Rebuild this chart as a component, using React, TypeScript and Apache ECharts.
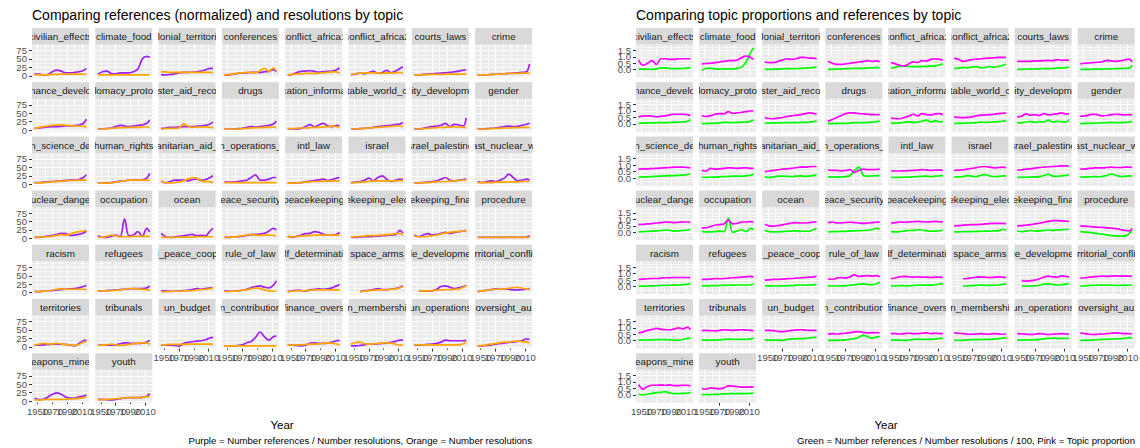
import React, { useEffect, useRef } from "react";
import * as echarts from "echarts";

// Sample years shared by every topic panel
const YEARS = [1946, 1952, 1958, 1964, 1970, 1976, 1982, 1988, 1994, 2000, 2006, 2012, 2016];

// Facet strip labels, as they appear inside the strips
const TOPICS = [
  "civilian_effects", "climate_food", "lonial_territori", "conferences", "conflict_africa1", "conflict_africa2", "courts_laws", "crime",
  "nance_develo", "lomacy_proto", "ster_aid_reco", "drugs", "cation_informa", "table_world_c", "ity_developm", "gender",
  "n_science_de", "human_rights", "anitarian_aid_", "n_operations_", "intl_law", "israel", "srael_palestine", "ast_nuclear_w",
  "uclear_dange", "occupation", "ocean", "eace_security", "peacekeeping", "ekeeping_elec", "ekeeping_fina", "procedure",
  "racism", "refugees", "l_peace_coop", "rule_of_law", "lf_determinati", "space_arms", "le_developme", "rritorial_confli",
  "territories", "tribunals", "un_budget", "n_contribution", "finance_overs", "n_membershi", "un_operations", "oversight_au",
  "eapons_mine", "youth",
];

// Number references / number resolutions (normalized), one row per topic
const REFS_PER_RES = [
  [5, 5, 3, 4, 12, 17, 14, 9, 9, 10, 12, 16, 22],
  [5, 12, 14, 7, 6, 9, 9, 9, 12, 20, 50, 58, 55],
  [3, 3, 4, 6, 9, 10, 10, 11, 12, 14, 18, 22, 22],
  [3, 3, 5, 7, 8, 9, 10, 10, 10, 12, 13, 18, 12],
  [2, 4, 10, 13, 14, 15, 13, 11, 12, 13, 14, 18, 24],
  [3, 5, 8, 6, 10, 13, 8, 10, 16, 9, 14, 22, 27],
  [3, 3, 4, 5, 6, 7, 8, 9, 10, 12, 14, 17, 18],
  [3, 3, 3, 4, 5, 5, 6, 7, 8, 9, 10, 12, 35],
  [5, 6, 8, 9, 10, 10, 11, 12, 12, 13, 15, 20, 32],
  [3, 3, 4, 6, 10, 14, 12, 10, 12, 14, 15, 20, 30],
  [5, 6, 8, 8, 9, 10, 10, 10, 11, 12, 14, 18, 24],
  [3, 3, 3, 4, 5, 8, 10, 9, 10, 12, 14, 18, 27],
  [3, 3, 3, 5, 10, 16, 10, 15, 20, 12, 10, 14, 12],
  [3, 3, 4, 5, 6, 8, 10, 12, 13, 14, 16, 18, 22],
  [3, 3, 5, 8, 10, 12, 14, 20, 10, 17, 15, 12, 36],
  [3, 3, 4, 5, 6, 8, 10, 12, 10, 11, 14, 17, 20],
  [5, 5, 6, 7, 8, 9, 10, 11, 12, 12, 14, 20, 28],
  [3, 3, 4, 5, 7, 9, 10, 12, 12, 12, 13, 18, 32],
  [10, 4, 8, 12, 12, 12, 10, 14, 15, 12, 14, 20, 25],
  [8, 6, 7, 8, 10, 12, 20, 28, 12, 12, 15, 20, 20],
  [3, 3, 4, 5, 7, 9, 11, 13, 15, 11, 14, 18, 20],
  [5, 6, 8, 12, 18, 10, 20, 25, 15, 8, 12, 15, 14],
  [3, 4, 5, 6, 8, 10, 15, 20, 12, 10, 12, 14, 15],
  [8, 5, 8, 10, 8, 12, 18, 30, 20, 10, 12, 15, 12],
  [3, 3, 5, 7, 9, 12, 15, 14, 9, 10, 12, 16, 22],
  [8, 3, 3, 6, 10, 5, 58, 8, 10, 20, 6, 30, 20],
  [15, 5, 3, 4, 6, 8, 10, 12, 8, 9, 8, 22, 30],
  [3, 3, 4, 5, 7, 9, 11, 12, 13, 15, 22, 30, 25],
  [6, 3, 6, 10, 14, 15, 20, 18, 12, 10, 10, 12, 18],
  [3, 3, 4, 5, 5, 6, 7, 8, 9, 10, 11, 24, 16],
  [10, 5, 10, 14, 10, 12, 15, 18, 15, 18, 20, 22, 24],
  [3, 3, 3, 3, 3, 3, 3, 3, 3, 3, 3, 4, 8],
  [3, 3, 4, 5, 6, 8, 9, 10, 11, 12, 14, 18, 22],
  [5, 5, 6, 7, 8, 9, 10, 11, 12, 12, 12, 14, 20],
  [5, 5, 4, 4, 5, 6, 7, 9, 12, 10, 12, 14, 15],
  [5, 4, 4, 5, 7, 10, 14, 18, 20, 16, 14, 22, 35],
  [3, 5, 7, 6, 5, 8, 10, 11, 10, 11, 14, 20, 24],
  [null, null, 3, 5, 7, 9, 12, 9, 9, 10, 12, 16, 20],
  [null, 5, 4, 4, 5, 10, 18, 20, 16, 12, 14, 18, 22],
  [3, 5, 7, 9, 11, 10, 11, 10, 8, 8, 9, 10, 12],
  [5, 5, 6, 7, 8, 8, 8, 7, 5, 3, 10, 18, 20],
  [5, 5, 5, 5, 6, 9, 12, 11, 10, 10, 11, 14, 20],
  [5, 5, 5, 4, 2, 10, 13, 15, 17, 18, 21, 26, 28],
  [3, 3, 3, 4, 6, 12, 16, 28, 44, 30, 20, 30, 32],
  [5, 5, 4, 3, 5, 11, 12, 10, 10, 11, 14, 18, 19],
  [3, 3, 4, 6, 8, 8, 9, 10, 11, 13, 16, 20, 20],
  [5, 5, 6, 7, 8, 10, 14, 20, 18, 18, 18, 18, 19],
  [3, 3, 4, 6, 8, 10, 11, 13, 14, 16, 18, 24, 22],
  [8, 4, 6, 12, 20, 24, 20, 12, 9, 9, 12, 15, 18],
  [5, 5, 4, 3, 5, 7, 9, 10, 10, 10, 11, 14, 22],
];

// Number of resolutions (normalized)
const RESOLUTIONS = [
  [3, 3, 3, 3, 4, 4, 5, 5, 5, 5, 5, 5, 4],
  [3, 3, 3, 3, 3, 3, 3, 3, 3, 3, 3, 3, 3],
  [12, 12, 10, 10, 10, 10, 10, 10, 10, 10, 10, 10, 10],
  [3, 4, 6, 8, 9, 10, 10, 9, 15, 22, 14, 24, 14],
  [3, 4, 6, 6, 7, 7, 7, 8, 9, 10, 12, 12, 8],
  [4, 6, 8, 8, 9, 9, 9, 7, 9, 8, 9, 10, 9],
  [3, 3, 3, 4, 4, 4, 4, 5, 5, 5, 5, 5, 5],
  [3, 3, 3, 4, 5, 5, 6, 7, 7, 7, 8, 8, 8],
  [4, 8, 10, 12, 14, 15, 15, 14, 13, 12, 12, 11, 9],
  [3, 3, 4, 5, 6, 7, 7, 8, 8, 8, 9, 9, 8],
  [3, 4, 5, 5, 6, 18, 12, 8, 9, 9, 9, 8, 8],
  [3, 3, 3, 3, 4, 5, 6, 7, 7, 8, 8, 9, 8],
  [4, 4, 5, 6, 6, 7, 8, 8, 9, 10, 12, 10, 9],
  [3, 3, 4, 5, 6, 7, 8, 9, 10, 11, 12, 12, 10],
  [3, 3, 4, 5, 6, 7, 8, 8, 9, 9, 9, 8, 8],
  [3, 3, 3, 4, 5, 5, 6, 6, 7, 7, 8, 8, 8],
  [4, 4, 5, 6, 7, 8, 9, 10, 11, 11, 12, 12, 12],
  [3, 3, 3, 4, 6, 8, 10, 12, 12, 12, 12, 12, 11],
  [10, 4, 4, 5, 6, 10, 15, 20, 18, 10, 8, 7, 6],
  [5, 5, 5, 5, 5, 5, 5, 5, 5, 5, 5, 5, 5],
  [3, 3, 4, 5, 6, 7, 8, 8, 9, 9, 10, 10, 10],
  [4, 5, 6, 7, 8, 9, 10, 10, 10, 10, 10, 11, 10],
  [3, 4, 5, 5, 6, 7, 8, 8, 9, 10, 11, 12, 12],
  [5, 5, 5, 5, 6, 6, 6, 7, 7, 7, 8, 8, 8],
  [3, 3, 4, 5, 7, 9, 11, 10, 12, 18, 20, 22, 24],
  [3, 3, 6, 10, 8, 5, 5, 5, 6, 6, 6, 6, 6],
  [3, 3, 3, 3, 4, 4, 4, 4, 5, 5, 5, 5, 5],
  [3, 3, 4, 6, 8, 10, 12, 10, 9, 10, 10, 9, 8],
  [4, 5, 6, 7, 8, 9, 10, 10, 10, 10, 10, 10, 10],
  [4, 5, 6, 7, 8, 8, 9, 10, 11, 12, 14, 14, 10],
  [8, 5, 5, 6, 8, 10, 13, 16, 18, 20, 20, 22, 24],
  [3, 3, 3, 3, 3, 3, 3, 3, 3, 3, 3, 3, 3],
  [3, 3, 4, 5, 7, 10, 11, 10, 10, 10, 10, 10, 9],
  [5, 5, 5, 6, 7, 8, 10, 12, 12, 11, 10, 9, 8],
  [3, 3, 3, 4, 4, 5, 5, 6, 8, 9, 10, 12, 14],
  [3, 3, 4, 5, 7, 9, 11, 14, 12, 8, 5, 4, 4],
  [3, 4, 5, 5, 6, 7, 8, 8, 8, 8, 8, 8, 8],
  [null, null, 3, 4, 6, 7, 8, 8, 9, 10, 11, 14, 18],
  [null, 5, 5, 5, 6, 7, 8, 9, 9, 10, 11, 16, 20],
  [3, 5, 7, 9, 10, 10, 11, 13, 15, 16, 13, 11, 9],
  [5, 8, 10, 9, 9, 10, 9, 7, 5, 4, 7, 14, 15],
  [5, 5, 6, 8, 6, 4, 5, 7, 9, 11, 12, 11, 8],
  [5, 6, 7, 7, 7, 7, 8, 8, 8, 8, 8, 8, 8],
  [3, 3, 3, 3, 3, 3, 3, 3, 3, 3, 3, 3, 3],
  [5, 5, 6, 6, 7, 8, 8, 9, 10, 12, 11, 8, 6],
  [8, 13, 14, 9, 8, 9, 10, 11, 12, 11, 8, 5, 5],
  [6, 6, 6, 6, 6, 6, 6, 6, 6, 6, 6, 9, 16],
  [3, 4, 6, 8, 10, 12, 14, 14, 16, 17, 15, 14, 12],
  [3, 3, 4, 5, 5, 5, 5, 5, 6, 7, 8, 10, 12],
  [4, 4, 5, 6, 7, 8, 9, 10, 10, 10, 11, 14, 12],
];

// Number references / number resolutions / 100
const REFS_RATIO = [
  [0.05, 0.05, 0.04, 0.03, 0.06, 0.15, 0.15, 0.1, 0.08, 0.09, 0.1, 0.13, 0.18],
  [-0.05, 0.1, 0.12, 0.06, 0.05, 0.06, 0.06, 0.07, 0.1, 0.2, 0.6, 1.3, 1.7],
  [0.03, 0.03, 0.04, 0.05, 0.07, 0.08, 0.08, 0.09, 0.1, 0.12, 0.15, 0.18, 0.2],
  [0.03, 0.03, 0.05, 0.07, 0.08, 0.09, 0.1, 0.1, 0.1, 0.15, 0.14, 0.18, 0.14],
  [0.1, 0.2, 0.28, 0.3, 0.26, 0.24, 0.24, 0.25, 0.26, 0.28, 0.3, 0.38, 0.45],
  [0.08, 0.12, 0.18, 0.15, 0.2, 0.24, 0.14, 0.18, 0.25, 0.2, 0.25, 0.35, 0.45],
  [0.03, 0.03, 0.04, 0.05, 0.06, 0.07, 0.08, 0.09, 0.1, 0.12, 0.14, 0.17, 0.2],
  [0.03, 0.03, 0.03, 0.04, 0.05, 0.05, 0.06, 0.07, 0.08, 0.09, 0.1, 0.12, 0.35],
  [0.05, 0.06, 0.07, 0.08, 0.09, 0.1, 0.1, 0.11, 0.12, 0.13, 0.15, 0.2, 0.32],
  [0.03, 0.03, 0.04, 0.05, 0.08, 0.12, 0.12, 0.1, 0.12, 0.14, 0.15, 0.2, 0.3],
  [0.05, 0.06, 0.08, 0.08, 0.09, 0.1, 0.1, 0.1, 0.11, 0.12, 0.14, 0.18, 0.24],
  [0.03, 0.03, 0.03, 0.04, 0.05, 0.07, 0.1, 0.1, 0.1, 0.12, 0.14, 0.18, 0.25],
  [0.05, 0.06, 0.08, 0.12, 0.16, 0.12, 0.14, 0.22, 0.3, 0.15, 0.25, 0.15, 0.2],
  [0.03, 0.04, 0.05, 0.06, 0.08, 0.1, 0.14, 0.12, 0.14, 0.16, 0.18, 0.22, 0.25],
  [0.08, 0.1, 0.15, 0.2, 0.12, 0.18, 0.15, 0.3, 0.15, 0.2, 0.18, 0.15, 0.35],
  [0.03, 0.03, 0.04, 0.05, 0.06, 0.08, 0.1, 0.12, 0.1, 0.1, 0.12, 0.15, 0.2],
  [0.08, 0.09, 0.1, 0.12, 0.14, 0.16, 0.18, 0.2, 0.2, 0.22, 0.24, 0.28, 0.32],
  [0.05, 0.06, 0.07, 0.08, 0.1, 0.12, 0.14, 0.15, 0.15, 0.16, 0.18, 0.22, 0.32],
  [0.1, 0.05, 0.1, 0.15, 0.15, 0.14, 0.12, 0.16, 0.18, 0.14, 0.16, 0.22, 0.26],
  [0.1, 0.08, 0.08, 0.1, 0.12, 0.2, 0.6, 0.85, 0.2, 0.15, 0.18, 0.2, 0.2],
  [0.05, 0.05, 0.06, 0.07, 0.08, 0.1, 0.12, 0.14, 0.16, 0.12, 0.15, 0.18, 0.2],
  [0.08, 0.1, 0.12, 0.2, 0.15, 0.12, 0.22, 0.28, 0.18, 0.12, 0.14, 0.18, 0.18],
  [0.05, 0.06, 0.07, 0.08, 0.1, 0.12, 0.2, 0.3, 0.15, 0.14, 0.18, 0.22, 0.25],
  [0.1, 0.08, 0.1, 0.12, 0.1, 0.14, 0.2, 0.32, 0.22, 0.12, 0.14, 0.18, 0.16],
  [0.04, 0.05, 0.07, 0.09, 0.11, 0.14, 0.18, 0.16, 0.1, 0.12, 0.14, 0.18, 0.22],
  [0.08, 0.03, 0.03, 0.06, 0.1, 0.05, 1.1, 0.0, 0.1, 0.2, 0.06, 0.3, 0.2],
  [0.15, 0.05, 0.03, 0.04, 0.06, 0.08, 0.1, 0.12, 0.08, 0.09, 0.08, 0.22, 0.3],
  [0.04, 0.05, 0.06, 0.07, 0.08, 0.1, 0.12, 0.13, 0.14, 0.16, 0.22, 0.3, 0.26],
  [0.06, 0.04, 0.06, 0.1, 0.14, 0.15, 0.2, 0.18, 0.12, 0.1, 0.1, 0.12, 0.18],
  [0.04, 0.04, 0.05, 0.05, 0.06, 0.07, 0.08, 0.09, 0.1, 0.11, 0.12, 0.24, 0.16],
  [0.1, 0.05, 0.1, 0.14, 0.1, 0.12, 0.15, 0.18, 0.15, 0.18, 0.2, 0.22, 0.24],
  [0.05, 0.02, 0.0, -0.05, -0.1, -0.15, -0.2, -0.25, -0.28, -0.3, -0.28, -0.1, 0.2],
  [0.03, 0.03, 0.04, 0.05, 0.06, 0.08, 0.09, 0.1, 0.11, 0.12, 0.14, 0.18, 0.22],
  [0.05, 0.05, 0.06, 0.07, 0.08, 0.09, 0.1, 0.11, 0.12, 0.12, 0.12, 0.14, 0.2],
  [0.05, 0.05, 0.04, 0.04, 0.05, 0.06, 0.07, 0.09, 0.12, 0.1, 0.12, 0.14, 0.15],
  [0.05, 0.04, 0.04, 0.05, 0.07, 0.1, 0.14, 0.18, 0.2, 0.16, 0.14, 0.22, 0.35],
  [0.03, 0.05, 0.07, 0.06, 0.05, 0.08, 0.1, 0.11, 0.1, 0.11, 0.14, 0.2, 0.24],
  [null, null, 0.03, 0.05, 0.07, 0.09, 0.12, 0.09, 0.09, 0.1, 0.12, 0.16, 0.2],
  [null, 0.05, 0.04, 0.04, 0.05, 0.1, 0.18, 0.2, 0.16, 0.12, 0.14, 0.18, 0.22],
  [0.03, 0.05, 0.07, 0.09, 0.11, 0.1, 0.11, 0.1, 0.08, 0.08, 0.09, 0.1, 0.12],
  [0.05, 0.05, 0.06, 0.07, 0.08, 0.08, 0.08, 0.07, 0.05, 0.03, 0.1, 0.18, 0.2],
  [0.05, 0.05, 0.05, 0.05, 0.06, 0.09, 0.12, 0.11, 0.1, 0.1, 0.11, 0.14, 0.2],
  [0.05, 0.05, 0.05, 0.04, 0.02, 0.1, 0.13, 0.15, 0.17, 0.18, 0.21, 0.26, 0.28],
  [0.03, 0.03, 0.03, 0.04, 0.06, 0.12, 0.16, 0.28, 0.44, 0.3, 0.2, 0.3, 0.32],
  [0.05, 0.05, 0.04, 0.03, 0.05, 0.11, 0.12, 0.1, 0.1, 0.11, 0.14, 0.18, 0.19],
  [0.03, 0.03, 0.04, 0.06, 0.08, 0.08, 0.09, 0.1, 0.11, 0.13, 0.16, 0.2, 0.2],
  [0.05, 0.05, 0.06, 0.07, 0.08, 0.1, 0.14, 0.2, 0.18, 0.18, 0.18, 0.18, 0.19],
  [0.03, 0.03, 0.04, 0.06, 0.08, 0.1, 0.11, 0.13, 0.14, 0.16, 0.18, 0.24, 0.22],
  [0.05, 0.0, 0.05, 0.12, 0.18, 0.2, 0.25, 0.15, 0.1, 0.1, 0.12, 0.15, 0.2],
  [0.03, 0.02, 0.03, 0.04, 0.05, 0.08, 0.09, 0.1, 0.1, 0.1, 0.1, 0.12, 0.15],
];

// Topic proportion
const TOPIC_SHARE = [
  [0.75, 0.35, 0.5, 0.7, 0.4, 0.85, 0.85, 0.8, 0.8, 0.85, 0.85, 0.85, 0.85],
  [0.45, 0.48, 0.5, 0.55, 0.6, 0.65, 0.7, 0.7, 0.75, 0.95, 1.05, 0.95, 0.8],
  [0.6, 0.55, 0.55, 0.65, 0.75, 0.85, 0.8, 0.85, 0.95, 0.95, 0.9, 0.9, 0.85],
  [0.65, 0.5, 0.42, 0.42, 0.45, 0.5, 0.55, 0.6, 0.65, 0.7, 0.65, 0.68, 0.62],
  [0.55, 0.45, 0.35, 0.3, 0.45, 0.6, 0.55, 0.7, 0.68, 0.8, 0.85, 0.8, 0.75],
  [0.9, 0.8, 0.65, 0.7, 0.78, 0.82, 0.85, 0.88, 0.9, 0.92, 0.95, 0.95, 0.95],
  [0.65, 0.65, 0.65, 0.65, 0.68, 0.68, 0.7, 0.72, 0.7, 0.78, 0.72, 0.75, 0.72],
  [0.45, 0.5, 0.52, 0.55, 0.58, 0.62, 0.72, 0.68, 0.65, 0.68, 0.75, 0.82, 0.6],
  [0.55, 0.6, 0.62, 0.6, 0.55, 0.6, 0.62, 0.7, 0.75, 0.75, 0.75, 0.72, 0.65],
  [0.65, 0.58, 0.62, 0.75, 0.8, 0.78, 0.95, 0.82, 0.85, 0.9, 0.95, 1.0, 1.0],
  [0.5, 0.42, 0.4, 0.45, 0.5, 0.58, 0.62, 0.68, 0.72, 0.78, 0.85, 0.82, 0.75],
  [0.2, 0.35, 0.5, 0.65, 0.8, 0.85, 0.85, 0.8, 0.78, 0.75, 0.72, 0.72, 0.72],
  [0.45, 0.42, 0.4, 0.5, 0.6, 0.75, 0.62, 0.8, 0.72, 0.7, 0.78, 0.8, 0.7],
  [0.55, 0.5, 0.48, 0.5, 0.55, 0.62, 0.68, 0.7, 0.72, 0.75, 0.8, 0.82, 0.85],
  [0.55, 0.6, 0.78, 0.68, 0.72, 0.65, 0.8, 0.7, 0.75, 0.78, 0.85, 0.75, 0.8],
  [0.6, 0.62, 0.7, 0.75, 0.7, 0.62, 0.65, 0.72, 0.75, 0.72, 0.7, 0.72, 0.7],
  [0.7, 0.72, 0.72, 0.74, 0.75, 0.78, 0.8, 0.82, 0.85, 0.85, 0.85, 0.82, 0.8],
  [0.6, 0.55, 0.75, 0.7, 0.72, 0.75, 0.8, 0.78, 0.75, 0.78, 0.8, 0.75, 0.75],
  [0.5, 0.55, 0.6, 0.65, 0.7, 0.72, 0.75, 0.8, 0.85, 0.85, 0.88, 0.9, 0.9],
  [0.65, 0.6, 0.6, 0.55, 0.6, 0.65, 0.45, 0.6, 0.7, 0.65, 0.65, 0.68, 0.7],
  [0.55, 0.55, 0.55, 0.56, 0.58, 0.6, 0.62, 0.65, 0.62, 0.6, 0.62, 0.62, 0.6],
  [0.6, 0.62, 0.65, 0.7, 0.75, 0.8, 0.88, 0.9, 0.85, 0.8, 0.82, 0.85, 0.8],
  [0.62, 0.65, 0.7, 0.72, 0.78, 0.82, 0.85, 0.88, 0.9, 0.92, 0.95, 0.95, 0.92],
  [0.7, 0.72, 0.75, 0.78, 0.8, 0.8, 0.82, 0.85, 0.82, 0.82, 0.85, 0.85, 0.82],
  [0.6, 0.62, 0.65, 0.68, 0.72, 0.75, 0.8, 0.78, 0.75, 0.78, 0.8, 0.8, 0.78],
  [0.35, 0.35, 0.45, 0.55, 0.6, 0.65, 0.95, 0.65, 0.7, 0.8, 0.8, 0.82, 0.8],
  [0.6, 0.5, 0.48, 0.52, 0.58, 0.65, 0.72, 0.75, 0.72, 0.72, 0.75, 0.8, 0.8],
  [0.75, 0.8, 0.72, 0.72, 0.76, 0.78, 0.75, 0.72, 0.7, 0.72, 0.75, 0.78, 0.8],
  [0.72, 0.75, 0.8, 0.78, 0.8, 0.82, 0.85, 0.82, 0.8, 0.82, 0.85, 0.82, 0.8],
  [0.5, 0.52, 0.55, 0.58, 0.6, 0.6, 0.62, 0.65, 0.68, 0.7, 0.7, 0.7, 0.68],
  [0.5, 0.52, 0.55, 0.6, 0.65, 0.7, 0.78, 0.85, 0.9, 0.9, 0.88, 0.86, 0.85],
  [0.5, 0.48, 0.45, 0.42, 0.4, 0.38, 0.35, 0.32, 0.28, 0.22, 0.15, 0.12, 0.3],
  [0.55, 0.58, 0.6, 0.62, 0.62, 0.65, 0.68, 0.68, 0.7, 0.7, 0.7, 0.7, 0.68],
  [0.55, 0.55, 0.58, 0.62, 0.6, 0.62, 0.65, 0.68, 0.7, 0.72, 0.75, 0.78, 0.75],
  [0.5, 0.52, 0.55, 0.55, 0.58, 0.6, 0.62, 0.65, 0.68, 0.7, 0.72, 0.75, 0.78],
  [0.6, 0.55, 0.65, 0.7, 0.65, 0.75, 0.9, 0.78, 0.82, 0.85, 0.8, 0.85, 0.75],
  [0.6, 0.68, 0.75, 0.78, 0.75, 0.72, 0.75, 0.72, 0.72, 0.7, 0.72, 0.72, 0.7],
  [null, null, 0.6, 0.62, 0.68, 0.72, 0.75, 0.72, 0.7, 0.72, 0.75, 0.72, 0.7],
  [null, 0.45, 0.42, 0.45, 0.5, 0.6, 0.72, 0.8, 0.75, 0.72, 0.82, 0.78, 0.75],
  [0.65, 0.68, 0.72, 0.75, 0.78, 0.8, 0.78, 0.8, 0.82, 0.8, 0.8, 0.8, 0.78],
  [0.6, 0.68, 0.8, 0.88, 0.95, 0.9, 0.85, 0.85, 0.9, 1.0, 0.92, 1.05, 0.85],
  [0.78, 0.8, 0.78, 0.76, 0.8, 0.85, 0.82, 0.8, 0.82, 0.85, 0.82, 0.8, 0.78],
  [0.8, 0.8, 0.78, 0.72, 0.7, 0.75, 0.8, 0.82, 0.85, 0.82, 0.8, 0.8, 0.8],
  [0.5, 0.55, 0.52, 0.55, 0.58, 0.62, 0.68, 0.7, 0.65, 0.6, 0.62, 0.62, 0.6],
  [0.55, 0.55, 0.52, 0.55, 0.58, 0.55, 0.55, 0.58, 0.6, 0.55, 0.58, 0.55, 0.55],
  [0.6, 0.58, 0.55, 0.5, 0.5, 0.52, 0.55, 0.52, 0.5, 0.55, 0.52, 0.5, 0.5],
  [0.55, 0.52, 0.5, 0.48, 0.5, 0.55, 0.52, 0.48, 0.5, 0.52, 0.55, 0.52, 0.5],
  [0.6, 0.55, 0.5, 0.48, 0.5, 0.52, 0.55, 0.58, 0.6, 0.58, 0.55, 0.55, 0.52],
  [0.8, 0.45, 0.65, 0.75, 0.75, 0.78, 0.75, 0.78, 0.72, 0.72, 0.75, 0.75, 0.7],
  [0.5, 0.45, 0.55, 0.5, 0.48, 0.55, 0.7, 0.68, 0.65, 0.6, 0.6, 0.62, 0.6],
];

// Tick values are split into alternating groups so each group's labels never collide
const X_TICK_GROUPS = [[1950, 1990], [1970, 2010]];
const X_MAJOR = [1950, 1970, 1990, 2010];
const X_GRID = [1950, 1960, 1970, 1980, 1990, 2000, 2010];
const LEFT_Y_TICK_GROUPS = [[0, 50], [25, 75]];
const LEFT_Y_MINOR = [12.5, 37.5, 62.5, 87.5];
const RIGHT_Y_TICK_GROUPS = [[0, 1], [0.5, 1.5]];
const RIGHT_Y_MINOR = [-0.25, 0.25, 0.75, 1.25, 1.75];

const FONT = '"Liberation Sans", Arial, Helvetica, sans-serif';
const NCOL = 8;
const PANEL_W = 57;
const STRIP_H = 16.5;
const PANEL_H = 33;
const ROW_TOP = 28;
const ROW_STEP = 54.2;

const SIDES = [
  {
    left: 32, step: 63.3, yMin: -5, yMax: 93,
    yGroups: LEFT_Y_TICK_GROUPS, yMinor: LEFT_Y_MINOR,
    fmt: (v: number) => String(v),
    lines: [{ data: REFS_PER_RES, color: "#A020F0" }, { data: RESOLUTIONS, color: "#FFA500" }],
  },
  {
    left: 636, step: 63.1, yMin: -0.6, yMax: 1.95,
    yGroups: RIGHT_Y_TICK_GROUPS, yMinor: RIGHT_Y_MINOR,
    fmt: (v: number) => v.toFixed(1),
    lines: [{ data: REFS_RATIO, color: "#00FF00" }, { data: TOPIC_SHARE, color: "#FF00FF" }],
  },
];

const labelBase = {
  color: "#4D4D4D", fontSize: 9.6, fontFamily: FONT,
  interval: 0, hideOverlap: false, showMinLabel: true, showMaxLabel: true,
};
const tickBase = { length: 3, interval: 0, lineStyle: { color: "#333333", width: 1 } };

function buildOption() {
  const grid: any[] = [];
  const xAxis: any[] = [];
  const yAxis: any[] = [];
  const series: any[] = [];

  SIDES.forEach((side) => {
    const yMajor = side.yGroups.flat();
    TOPICS.forEach((name, k) => {
      const r = Math.floor(k / NCOL);
      const c = k % NCOL;
      const x = side.left + c * side.step;
      const stripTop = ROW_TOP + r * ROW_STEP;
      const panelTop = stripTop + STRIP_H;
      const isBottom = r === 6 || (r === 5 && c >= 2);
      const isLeft = c === 0;

      // panel
      const gi = grid.length;
      grid.push({ left: x, top: panelTop, width: PANEL_W, height: PANEL_H, show: true, backgroundColor: "#EBEBEB", borderWidth: 0, outerBoundsMode: "none" });

      const xi = xAxis.length;
      const xGroups = isBottom ? X_TICK_GROUPS : [[]];
      xGroups.forEach((vals) => {
        xAxis.push({
          gridIndex: gi, type: "value", min: 1942.5, max: 2019.5, position: "bottom", offset: 0,
          splitLine: { show: false }, axisLine: { show: false },
          axisTick: { ...tickBase, show: isBottom, customValues: vals },
          axisLabel: { ...labelBase, show: isBottom, customValues: vals, margin: 4, formatter: (v: number) => String(v) },
        });
      });
      const yi = yAxis.length;
      const yGroups = isLeft ? side.yGroups : [[]];
      yGroups.forEach((vals) => {
        yAxis.push({
          gridIndex: gi, type: "value", min: side.yMin, max: side.yMax, position: "left", offset: 0,
          splitLine: { show: false }, axisLine: { show: false },
          axisTick: { ...tickBase, show: isLeft, customValues: vals },
          axisLabel: { ...labelBase, show: isLeft, customValues: vals, margin: 5, formatter: side.fmt },
        });
      });

      // white grid lines
      const lineData: any[] = [];
      X_GRID.forEach((v) => lineData.push({ xAxis: v, lineStyle: { width: X_MAJOR.includes(v) ? 1.1 : 0.55 } }));
      yMajor.forEach((v) => lineData.push({ yAxis: v, lineStyle: { width: 1.1 } }));
      side.yMinor.forEach((v) => lineData.push({ yAxis: v, lineStyle: { width: 0.55 } }));
      series.push({
        type: "line", xAxisIndex: xi, yAxisIndex: yi, data: [], silent: true, z: 1,
        markLine: { silent: true, z: 1, symbol: "none", animation: false, label: { show: false }, emphasis: { disabled: true }, lineStyle: { color: "#FFFFFF", type: "solid", opacity: 1 }, data: lineData },
      });

      side.lines.forEach((ln) => {
        const vals = ln.data[k];
        const pts: any[] = [];
        YEARS.forEach((yr, i) => { if (vals[i] !== null) pts.push([yr, vals[i]]); });
        series.push({
          type: "line", xAxisIndex: xi, yAxisIndex: yi, data: pts, z: 3,
          showSymbol: false, symbol: "none", smooth: 0.35, silent: true,
          lineStyle: { color: ln.color, width: 1.7 }, emphasis: { disabled: true },
        });
      });

      // strip with clipped, centred label
      const si = grid.length;
      grid.push({ left: x, top: stripTop, width: PANEL_W, height: STRIP_H, show: true, backgroundColor: "#D9D9D9", borderWidth: 0, outerBoundsMode: "none" });
      const sxi = xAxis.length;
      xAxis.push({ gridIndex: si, type: "value", min: 0, max: 1, show: false });
      const syi = yAxis.length;
      yAxis.push({ gridIndex: si, type: "value", min: 0, max: 1, show: false });
      series.push({
        type: "custom", coordinateSystem: "cartesian2d", xAxisIndex: sxi, yAxisIndex: syi,
        clip: true, silent: true, data: [[0.5, 0.5]],
        renderItem: (params: any) => {
          const cs = params.coordSys;
          return {
            type: "text", x: cs.x + cs.width / 2, y: cs.y + cs.height / 2 + 0.5,
            style: { text: name, align: "center", verticalAlign: "middle", textAlign: "center", textVerticalAlign: "middle", fill: "#1A1A1A", fontSize: 9.8, fontFamily: FONT },
          };
        },
      });
    });
  });

  const txt = (text: string, x: number, y: number, size: number, align: string, fill = "#000000") => ({
    type: "text", x, y, silent: true,
    style: { text, fill, fontSize: size, fontFamily: FONT, align, verticalAlign: "middle", textAlign: align, textVerticalAlign: "middle" },
  });

  const graphic = [
    txt("Comparing references (normalized) and resolutions by topic", 32, 15, 14, "left"),
    txt("Comparing topic proportions and references by topic", 636, 15, 14, "left"),
    txt("Year", 282, 425, 11.5, "center"),
    txt("Year", 886, 425, 11.5, "center"),
    txt("Purple = Number references / Number resolutions, Orange = Number resolutions", 532, 440, 9.6, "right"),
    txt("Green = Number references / Number resolutions / 100, Pink = Topic proportion", 1135, 440, 9.6, "right"),
  ];

  return { animation: false, backgroundColor: "#FFFFFF", grid, xAxis, yAxis, series, graphic };
}

export default function App() {
  const ref = useRef<HTMLDivElement>(null);
  useEffect(() => {
    if (!ref.current) return;
    const chart = echarts.init(ref.current, undefined, { renderer: "svg" });
    chart.setOption(buildOption() as any);
    return () => chart.dispose();
  }, []);
  return <div ref={ref} style={{ position: "absolute", left: 0, top: 0, width: 1140, height: 448 }} />;
}
